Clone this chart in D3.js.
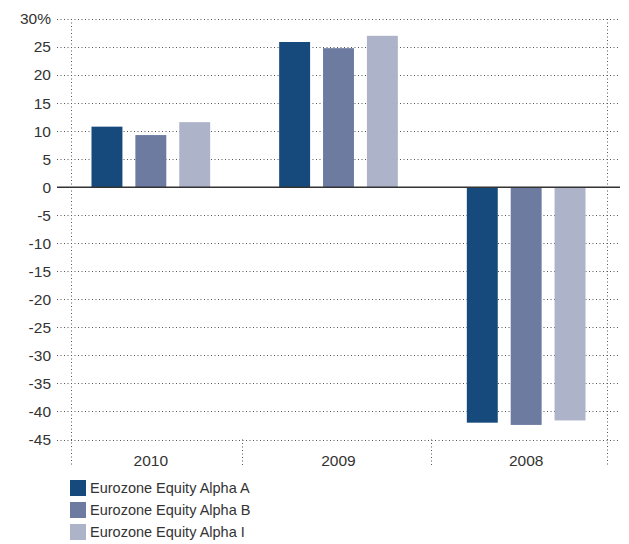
<!DOCTYPE html>
<html>
<head>
<meta charset="utf-8">
<script src="https://cdn.jsdelivr.net/npm/d3@7"></script>
<style>
  body { margin: 0; background: #fff; }
  text { font-family: "Liberation Sans", Arial, sans-serif; fill: #333; }
</style>
</head>
<body>
<div id="chart-area"></div>
<script>
// values
var years = ["2010", "2009", "2008"];
var series = ["Eurozone Equity Alpha A", "Eurozone Equity Alpha B", "Eurozone Equity Alpha I"];
var alphaA = [10.8, 25.9, -42.0];
var alphaB = [9.3, 24.8, -42.4];
var alphaI = [11.6, 27.0, -41.6];
var yTicks = [30, 25, 20, 15, 10, 5, 0, -5, -10, -15, -20, -25, -30, -35, -40, -45];
var colors = ["#174a7c", "#6e7ba0", "#adb3c9"];

var W = 629, H = 544;
var plotLeft = 57, plotRight = 620, plotTop = 19, plotBottom = 439.5;

var svg = d3.select("#chart-area").append("svg")
    .attr("width", W).attr("height", H);

var x = d3.scaleBand().domain(years).range([plotLeft, plotRight]);
var xs = d3.scaleBand().domain(series).range([34.5, x.bandwidth() - 34.5]).paddingInner(0.295);
var y = d3.scaleLinear().domain([-45, 30]).range([plotBottom, plotTop]);

var data = years.map(function(yr, i) {
    return { year: yr, vals: [alphaA[i], alphaB[i], alphaI[i]] };
});

// horizontal dotted grid
svg.append("g").selectAll("line").data(yTicks.filter(function(d) { return d !== 0; }))
    .enter().append("line")
    .attr("x1", plotLeft).attr("x2", plotRight)
    .attr("y1", function(d) { return Math.round(y(d)) + 0.5; })
    .attr("y2", function(d) { return Math.round(y(d)) + 0.5; })
    .attr("stroke", "#555")
    .attr("stroke-width", 1)
    .attr("stroke-dasharray", "1,2.5");

// vertical dotted lines
var vlines = [
    { x: plotLeft + 14, y1: plotTop, y2: 465 },
    { x: x("2009") - 2.5, y1: plotBottom, y2: 465 },
    { x: x("2008") - 1.5, y1: plotBottom, y2: 465 },
    { x: plotRight - 13.5, y1: plotTop, y2: 465 }
];
svg.append("g").selectAll("line").data(vlines).enter().append("line")
    .attr("x1", function(d) { return Math.round(d.x) + 0.5; })
    .attr("x2", function(d) { return Math.round(d.x) + 0.5; })
    .attr("y1", function(d) { return d.y1; })
    .attr("y2", function(d) { return d.y2; })
    .attr("stroke", "#555")
    .attr("stroke-dasharray", "1,2.5");

// bars
var groups = svg.append("g").selectAll("g").data(data).enter().append("g")
    .attr("transform", function(d) { return "translate(" + x(d.year) + ",0)"; });

groups.selectAll("rect").data(function(d) {
        return d.vals.map(function(v, j) { return { key: series[j], v: v, c: colors[j] }; });
    })
    .enter().append("rect")
    .attr("x", function(d) { return xs(d.key); })
    .attr("width", xs.bandwidth())
    .attr("y", function(d) { return y(Math.max(0, d.v)); })
    .attr("height", function(d) { return Math.abs(y(d.v) - y(0)); })
    .attr("fill", function(d) { return d.c; });

// zero line
svg.append("line")
    .attr("x1", plotLeft).attr("x2", plotRight)
    .attr("y1", y(0)).attr("y2", y(0))
    .attr("stroke", "#333")
    .attr("stroke-width", 1.5);

// y axis labels
svg.append("g").selectAll("text").data(yTicks).enter().append("text")
    .attr("x", 51)
    .attr("y", function(d) { return y(d); })
    .attr("dy", "0.35em")
    .attr("text-anchor", "end")
    .attr("font-size", "15.5px")
    .text(function(d) { return d === 30 ? "30%" : d; });

// x labels
svg.append("g").selectAll("text").data(years).enter().append("text")
    .attr("x", function(d) { return x(d) + x.bandwidth() / 2; })
    .attr("y", 461)
    .attr("dy", "0.35em")
    .attr("text-anchor", "middle")
    .attr("font-size", "15.5px")
    .text(function(d) { return d; });

// legend
var legend = svg.append("g").selectAll("g").data(series).enter().append("g")
    .attr("transform", function(d, i) { return "translate(70," + (480 + i * 22) + ")"; });
legend.append("rect")
    .attr("width", 16).attr("height", 16)
    .attr("fill", function(d, i) { return colors[i]; });
legend.append("text")
    .attr("x", 20).attr("y", 8)
    .attr("dy", "0.35em")
    .attr("font-size", "14.5px")
    .text(function(d) { return d; });
</script>
</body>
</html>
